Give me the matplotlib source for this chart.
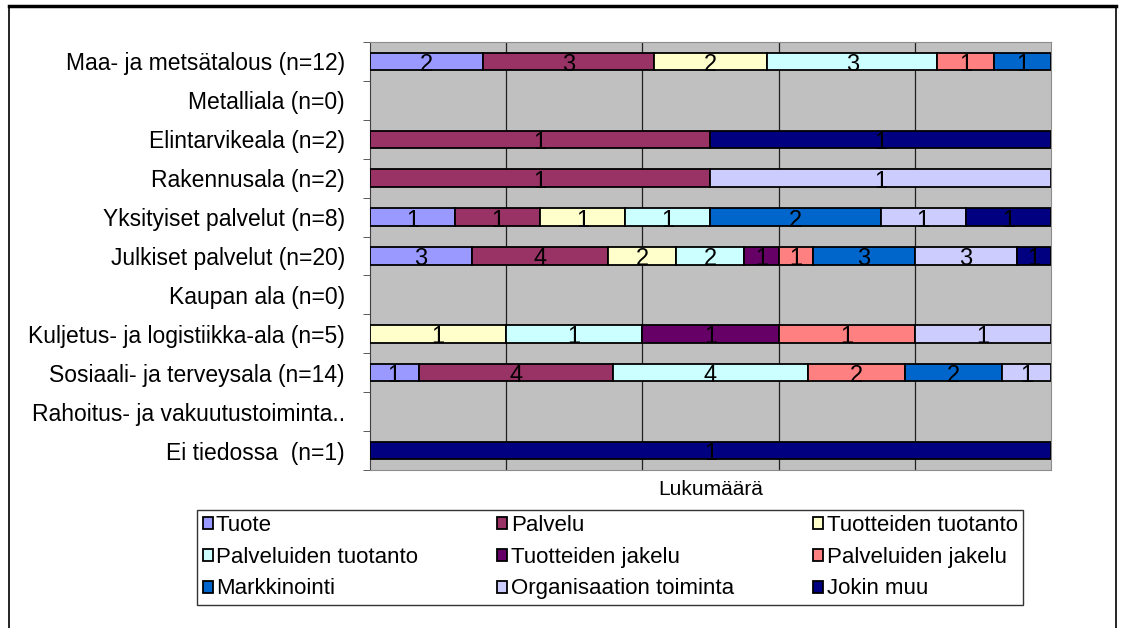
import numpy as np
import matplotlib
matplotlib.use("Agg")
import matplotlib.pyplot as plt
from matplotlib.lines import Line2D
from matplotlib.patches import Patch

plt.rcParams['font.family'] = ['Liberation Sans Narrow', 'Liberation Sans', 'DejaVu Sans']

# Toimialat ylhäältä alas
categories = [
    "Maa- ja metsätalous (n=12)",
    "Metalliala (n=0)",
    "Elintarvikeala (n=2)",
    "Rakennusala (n=2)",
    "Yksityiset palvelut (n=8)",
    "Julkiset palvelut (n=20)",
    "Kaupan ala (n=0)",
    "Kuljetus- ja logistiikka-ala (n=5)",
    "Sosiaali- ja terveysala (n=14)",
    "Rahoitus- ja vakuutustoiminta..",
    "Ei tiedossa  (n=1)",
]

series_names = [
    "Tuote", "Palvelu", "Tuotteiden tuotanto",
    "Palveluiden tuotanto", "Tuotteiden jakelu", "Palveluiden jakelu",
    "Markkinointi", "Organisaation toiminta", "Jokin muu",
]

# lukumäärät per toimiala (samassa järjestyksessä kuin categories)
tuote = [2, 0, 0, 0, 1, 3, 0, 0, 1, 0, 0]
palvelu = [3, 0, 1, 1, 1, 4, 0, 0, 4, 0, 0]
tuotteiden_tuotanto = [2, 0, 0, 0, 1, 2, 0, 1, 0, 0, 0]
palveluiden_tuotanto = [3, 0, 0, 0, 1, 2, 0, 1, 4, 0, 0]
tuotteiden_jakelu = [0, 0, 0, 0, 0, 1, 0, 1, 0, 0, 0]
palveluiden_jakelu = [1, 0, 0, 0, 0, 1, 0, 1, 2, 0, 0]
markkinointi = [1, 0, 0, 0, 2, 3, 0, 0, 2, 0, 0]
organisaatio = [0, 0, 0, 1, 1, 3, 0, 1, 1, 0, 0]
jokin_muu = [0, 0, 1, 0, 1, 1, 0, 0, 0, 0, 1]

colors = ["#9999FF", "#993366", "#FFFFCC", "#CCFFFF", "#660066",
          "#FF8080", "#0066CC", "#CCCCFF", "#000080"]

counts = np.array([tuote, palvelu, tuotteiden_tuotanto, palveluiden_tuotanto,
                   tuotteiden_jakelu, palveluiden_jakelu, markkinointi,
                   organisaatio, jokin_muu], dtype=float)
totals = counts.sum(axis=0)
share = np.divide(counts, totals, out=np.zeros_like(counts), where=totals > 0)

fig = plt.figure(figsize=(11.21, 6.28), dpi=100)
ax = fig.add_axes([0.330, 0.2516, 0.6075, 0.6815])
ax.set_facecolor("#C0C0C0")

y = np.arange(len(categories))
left = np.zeros(len(categories))
for i, name in enumerate(series_names):
    bars = ax.barh(y, share[i], left=left, height=0.45, color=colors[i],
                   edgecolor="black", linewidth=1.3, zorder=3)
    # tyhjät palkit piiloon, ettei reunaviiva näy nollakohdassa
    for patch, c in zip(bars.patches, counts[i]):
        if c == 0:
            patch.set_visible(False)
    labels = [str(int(c)) if c > 0 else "" for c in counts[i]]
    texts = ax.bar_label(bars, labels=labels, label_type="center", fontsize=17,
                         color="black", padding=0)
    for t in texts:
        t.xyann = (0, -2.5)
        t.set_zorder(6)
    left += share[i]

ax.set_xlim(0, 1)
ax.set_ylim(len(categories) - 0.5, -0.5)
ax.set_xticks([0.2, 0.4, 0.6, 0.8])
ax.set_xticklabels([])
ax.tick_params(axis="x", length=0)
ax.grid(axis="x", color="#202020", linewidth=0.9, zorder=1)
ax.set_axisbelow(True)

ax.set_yticks(y)
ax.set_yticklabels(categories, fontsize=16.5)
ax.tick_params(axis="y", which="major", length=0, pad=18)
ax.set_yticks(np.arange(-0.5, len(categories), 1), minor=True)
ax.tick_params(axis="y", which="minor", length=5, color="#404040")

for side in ["top", "right", "bottom"]:
    ax.spines[side].set_color("#8C8C8C")
ax.spines["left"].set_color("#404040")

ax.set_xlabel("Lukumäärä", fontsize=15, labelpad=4)

# legenda rivijärjestyksessä (matplotlib täyttää sarakkeittain)
proxies = [Patch(facecolor=c, edgecolor="black", linewidth=1.3) for c in colors]
order = [0, 3, 6, 1, 4, 7, 2, 5, 8]
leg = fig.legend([proxies[k] for k in order], [series_names[k] for k in order],
                 ncol=3, loc="lower left",
                 bbox_to_anchor=(0.1757, 0.0366, 0.737, 0.1545),
                 mode="expand", fontsize=16, frameon=True, fancybox=False,
                 edgecolor="black", handlelength=0.45, handleheight=0.45,
                 handletextpad=0.15, labelspacing=0.48, borderaxespad=0,
                 borderpad=0.25, columnspacing=1.0)
leg.get_frame().set_linewidth(1.0)

# kuvan kehys
fig.add_artist(Line2D([0.008, 0.008], [0.0, 0.990], color="black", lw=1.2))
fig.add_artist(Line2D([0.9955, 0.9955], [0.0, 0.990], color="black", lw=1.2))
fig.add_artist(Line2D([0.008, 0.9955], [0.990, 0.990], color="black", lw=2.5))

fig.savefig("out.png", dpi=100)
